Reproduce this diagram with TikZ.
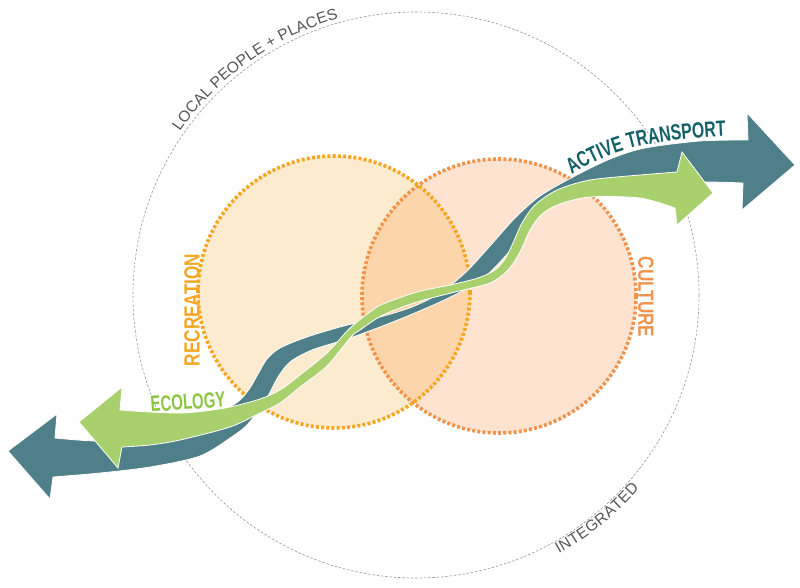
\documentclass[tikz,border=0pt]{standalone}
\usepackage{fontspec}
\setmainfont{Liberation Sans}
\newfontfamily\condA{Liberation Sans}[FakeStretch=0.78]
\newfontfamily\condB{Liberation Sans}[FakeStretch=0.68]
\newfontfamily\condC{Liberation Sans}[FakeStretch=0.72]
\usetikzlibrary{decorations.text}
\definecolor{tealarrow}{RGB}{79,127,136}
\definecolor{tealtext}{RGB}{20,96,104}
\definecolor{greenarrow}{RGB}{168,208,108}
\definecolor{greentext}{RGB}{140,198,63}
\definecolor{recfill}{RGB}{253,235,207}
\definecolor{culfill}{RGB}{253,227,208}
\definecolor{lensfill}{RGB}{252,214,170}
\definecolor{recline}{RGB}{245,166,35}
\definecolor{culline}{RGB}{240,148,77}
\definecolor{ringgray}{RGB}{150,150,150}
\definecolor{graytext}{RGB}{85,85,85}
\begin{document}
\begin{tikzpicture}[x=1pt,y=-1pt,
  ringline/.style={draw=ringgray, line width=0.6pt, dash pattern=on 2.5pt off 1.8pt},
  dotring/.style={line width=3.6pt, dash pattern=on 3pt off 2.2pt},
  ribbon/.style={draw=white, line width=0.8pt, line join=miter},
  bigword/.style={inner sep=0pt}
]
\useasboundingbox (0,0) rectangle (800,587);
\coordinate (C) at (416,295);
\coordinate (R) at (334,292);
\coordinate (K) at (499,296);
% outer dashed ring
\draw[ringline] (C) circle[radius=283];
% two circles
\fill[recfill] (R) circle[radius=136];
\fill[culfill] (K) circle[radius=137];
\begin{scope}
  \clip (R) circle[radius=136];
  \fill[lensfill] (K) circle[radius=137];
\end{scope}
\draw[culline, dotring] (K) circle[radius=137];
\draw[recline, dotring] (R) circle[radius=136];
% ring labels
\path[decorate, decoration={text along path, text align=center, raise=4pt, text color=graytext,
  text={|\fontsize{15.5}{18}\selectfont|LOCAL PEOPLE + PLACES}}]
  (C) ++(-150.5:283) arc[start angle=-150.5, end angle=-100.5, radius=283];
\path[decorate, decoration={text along path, text align=center, raise=-12.5pt, text color=graytext,
  text={|\fontsize{15.5}{18}\selectfont|INTEGRATED}}]
  (C) ++(70:283) arc[start angle=70, end angle=32, radius=283];
% teal ribbon
\path[ribbon, fill=tealarrow] (8,451) -- (57,414) -- (55,438) --
  plot[smooth] coordinates {(55,438) (100,441) (150,436) (195,425) (225,410) (240,400) (250,388) (258,374) (267,359) (280,348) (307,337) (340,327) (380,317) (412,307) (440,293) (466,272) (490,246) (515,218) (540,196) (573,177) (610,159) (645,148) (700,141) (748,140)}
  -- (747,113) -- (795,165) -- (742,210) --
  plot[smooth] coordinates {(743,183) (700,182) (650,185) (600,190) (570,198) (547,208) (528,228) (508,253) (488,274) (466,289) (440,302) (410,315) (380,327) (347,339) (312,350) (290,362) (278,377) (268,396) (258,411) (247,425) (233,436) (200,456) (150,467) (100,473) (53,477)}
  -- (50,499) -- cycle;
% green ribbon
\path[ribbon, fill=greenarrow] (79,422) -- (122,387) -- (120,410) --
  plot[smooth] coordinates {(120,410) (150,412) (180,413) (205,411) (230,407) (260,399) (280,390) (300,375) (327,353) (350,328) (370,312) (383,304) (417,292) (450,285) (478,278) (495,270) (505,259) (513,243) (522,223) (535,205) (557,190) (590,180) (640,175) (677,172)}
  -- (682,152) -- (713,193) -- (677,225) --
  plot[smooth] coordinates {(675,208) (640,198) (590,197) (560,204) (542,214) (530,230) (520,252) (508,270) (490,283) (455,292) (417,302) (383,315) (360,330) (350,338) (327,366) (300,387) (280,403) (260,413) (230,427) (180,440) (150,445) (122,447)}
  -- (118,468) -- cycle;
% labels
\path[decorate, decoration={text along path, text color=tealtext,
  text={|\condC\bfseries\fontsize{22}{22}\selectfont|ACTIVE TRANSPORT}}]
  (572,175) .. controls (610,150) and (650,138) .. (745,135);
\node[bigword, font=\condB\bfseries\fontsize{22}{22}\selectfont, text=greentext, anchor=base west, rotate=4] (eco) at (151,412) {ECOLOGY};
\node[bigword, font=\condA\bfseries\fontsize{22}{22}\selectfont, text=recline, rotate=90] (rec) at (192,310) {RECREATION};
\node[bigword, font=\condA\bfseries\fontsize{22}{22}\selectfont, text=culline, rotate=-90] (cul) at (646,297) {CULTURE};
\end{tikzpicture}
\end{document}
